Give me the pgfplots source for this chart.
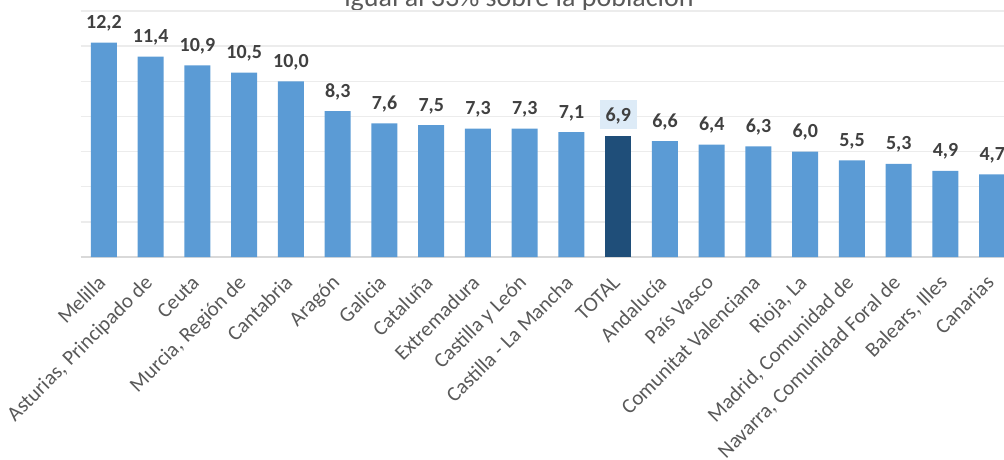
\documentclass[border=0pt]{standalone}
\usepackage{pgfplots}
\pgfplotsset{compat=1.18}
\usepackage{fontspec}
\setmainfont{Carlito}
\definecolor{cbar}{HTML}{5B9BD5}
\definecolor{ctot}{HTML}{1F4E79}
\definecolor{cgrid}{HTML}{ECECEC}
\definecolor{cbase}{HTML}{D9D9D9}
\definecolor{clab}{HTML}{404040}
\definecolor{ctick}{HTML}{595959}
\definecolor{cbox}{HTML}{DDEBF7}
\begin{document}
\begin{tikzpicture}
\path[use as bounding box, clip] (0pt,0pt) rectangle (1004pt,459pt);
\node[anchor=base, text=ctick, font=\fontsize{28}{32}\selectfont, inner sep=0pt] at (519pt,452.5pt) {igual al 33\% sobre la población};
\begin{axis}[
  at={(80.6pt,202pt)}, anchor=south west,
  scale only axis, width=935pt, height=246pt,
  xmin=-0.5, xmax=19.5, ymin=0, ymax=14,
  ybar, bar width=26pt, bar shift=0pt,
  axis line style={draw=none},
  ytick={2,4,...,14}, yticklabels={},
  ymajorgrids, grid style={cgrid, line width=1.3pt},
  extra y ticks={0}, extra y tick labels={}, extra y tick style={grid style={cbase, line width=2pt}},
  major tick length=0pt,
  xtick={0,...,19},
  xticklabels={Melilla, {Asturias, Principado de}, Ceuta, {Murcia, Región de}, Cantabria, Aragón, Galicia, Cataluña, Extremadura, Castilla y León, Castilla - La Mancha, TOTAL, Andalucía, País Vasco, Comunitat Valenciana, {Rioja, La}, {Madrid, Comunidad de}, {Navarra, Comunidad Foral de}, {Balears, Illes}, Canarias},
  xticklabel style={xshift=3pt, yshift=-27pt, rotate=45, anchor=base east, inner sep=0pt, text=ctick, font=\fontsize{21}{25}\selectfont},
  nodes near coords,
  /pgf/number format/.cd, fixed, fixed zerofill, precision=1, use comma, assume math mode=true, /pgfplots/.cd,
  nodes near coords style={anchor=base, yshift=14pt, inner sep=0pt, text=clab, font=\bfseries\fontsize{20}{24}\selectfont},
  clip=false,
]
\addplot[fill=cbar, draw=none] coordinates {
(0,12.2) (1,11.4) (2,10.9) (3,10.5) (4,10.0) (5,8.3) (6,7.6) (7,7.5) (8,7.3) (9,7.3) (10,7.1)
(12,6.6) (13,6.4) (14,6.3) (15,6.0) (16,5.5) (17,5.3) (18,4.9) (19,4.7)};
\addplot[fill=ctot, draw=none, nodes near coords style={fill=cbox, inner xsep=6pt, inner ysep=0pt, text height=22pt, text depth=7pt}] coordinates {(11,6.9)};
\end{axis}
\end{tikzpicture}
\end{document}
